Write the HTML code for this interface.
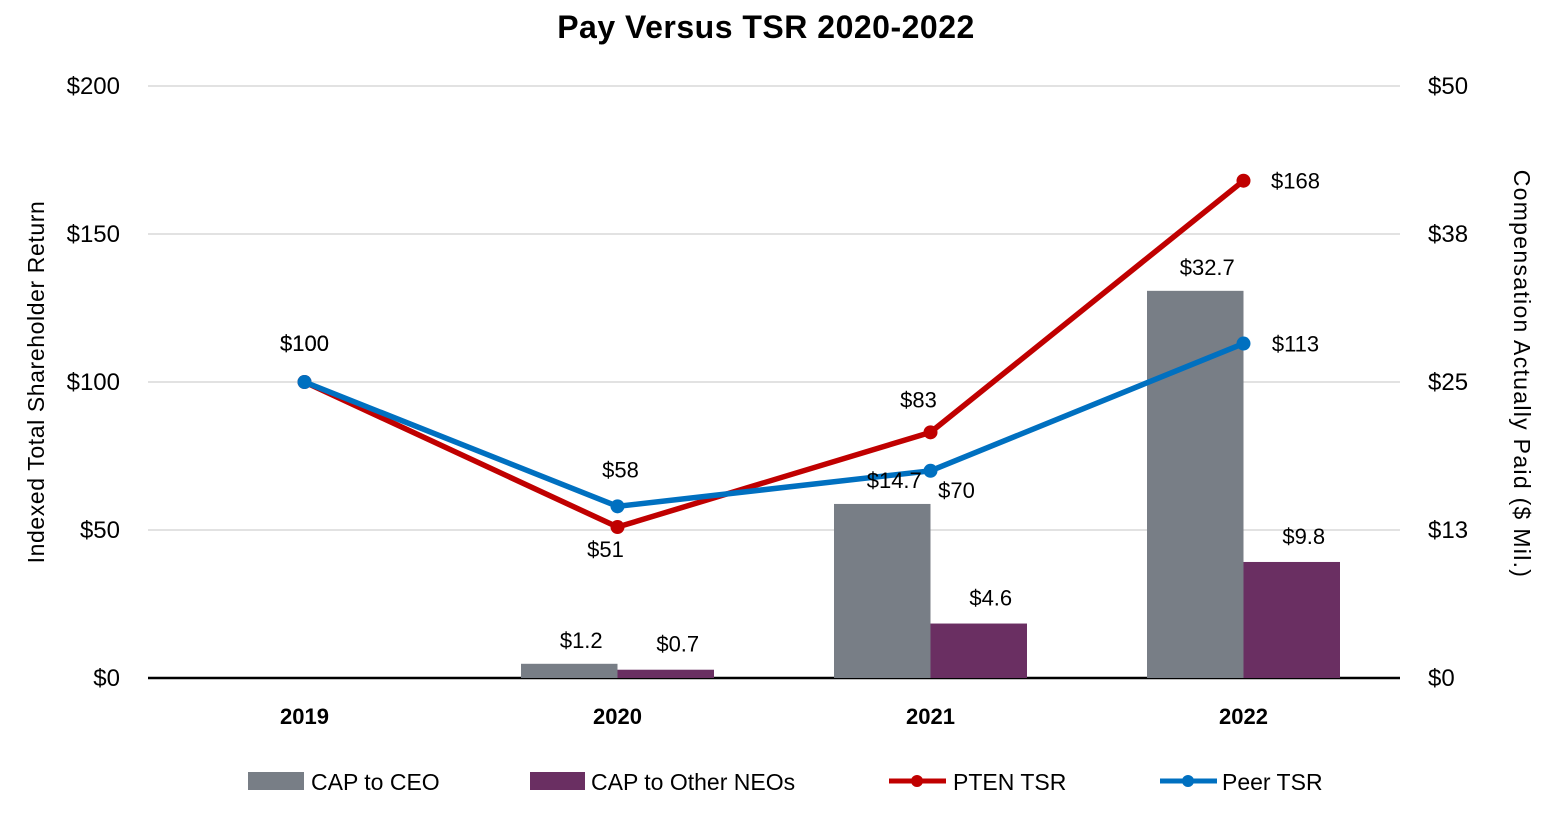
<!DOCTYPE html>
<html><head><meta charset="utf-8"><style>
body{margin:0;background:#fff;}
svg text{font-family:"Liberation Sans",sans-serif;}
</style></head><body>
<svg id="chart" width="1565" height="821" xmlns="http://www.w3.org/2000/svg">
<text x="766" y="38" text-anchor="middle" font-size="32" font-weight="bold" letter-spacing="0.5">Pay Versus TSR 2020-2022</text>
<g id="grid"></g><g id="bars"></g><g id="lines"></g><g id="labels"></g>
<text transform="translate(44,382) rotate(-90)" text-anchor="middle" font-size="23" letter-spacing="0.6">Indexed Total Shareholder Return</text>
<text transform="translate(1514,374) rotate(90)" text-anchor="middle" font-size="23" letter-spacing="1.3">Compensation Actually Paid ($ Mil.)</text>
<g>
<rect x="248" y="772" width="56" height="18" fill="#787e86"/>
<text x="311" y="790" font-size="23">CAP to CEO</text>
<rect x="530" y="772" width="55" height="18" fill="#6a2f62"/>
<text x="591" y="790" font-size="23">CAP to Other NEOs</text>
<line x1="889" y1="781" x2="946" y2="781" stroke="#c00000" stroke-width="5"/>
<circle cx="917" cy="781" r="6" fill="#c00000"/>
<text x="953" y="790" font-size="23">PTEN TSR</text>
<line x1="1160" y1="781" x2="1217" y2="781" stroke="#0070c0" stroke-width="5"/>
<circle cx="1188" cy="781" r="6" fill="#0070c0"/>
<text x="1222" y="790" font-size="23">Peer TSR</text>
</g>
</svg>
<script>
const categories=["2019","2020","2021","2022"];
const capCeo=[null,1.2,14.7,32.7];
const capNeo=[null,0.7,4.6,9.8];
const ptenTsr=[100,51,83,168];
const peerTsr=[100,58,70,113];
const leftTicks=[0,50,100,150,200];
const rightTicks=["$0","$13","$25","$38","$50"];
const NS="http://www.w3.org/2000/svg";
const x0=148,x1=1400,yTop=86,yBot=678;
const yL=v=>yBot-(v/200)*(yBot-yTop);
const yR=v=>yBot-(v/50)*(yBot-yTop);
const xC=i=>x0+(x1-x0)/categories.length*(i+0.5);
function mk(tag,attrs,parent,text){const e=document.createElementNS(NS,tag);for(const k in attrs)e.setAttribute(k,attrs[k]);if(text!=null)e.textContent=text;parent.appendChild(e);return e;}
const grid=document.getElementById('grid'),bars=document.getElementById('bars'),lines=document.getElementById('lines'),labels=document.getElementById('labels');
leftTicks.forEach((t,i)=>{
  const y=yL(t);
  if(t>0){const g=mk('line',{x1:x0,x2:x1,y1:y,y2:y,stroke:'#d9d9d9','stroke-width':1.5},grid);
  
  }
  const l=mk('text',{x:120,y:y+8,'text-anchor':'end','font-size':24},labels,'$'+t);
  
  
  const r=mk('text',{x:1428,y:y+8,'font-size':24},labels,rightTicks[i]);
  
  
});
const bw=96.5;
categories.forEach((c,i)=>{
  const cx=xC(i);
  const t=mk('text',{x:cx,y:724,'text-anchor':'middle','font-size':22,'font-weight':'bold'},labels,c);
  
  
  if(capCeo[i]!=null){
    const b=mk('rect',{x:cx-bw,y:yR(capCeo[i]),width:bw,height:yBot-yR(capCeo[i]),fill:'#787e86'},bars);
    
    
    const l=mk('text',{x:cx-bw/2+12,y:yR(capCeo[i])-16,'text-anchor':'middle','font-size':22},labels,'$'+capCeo[i]);
    
    
  }
  if(capNeo[i]!=null){
    const b=mk('rect',{x:cx,y:yR(capNeo[i]),width:bw,height:yBot-yR(capNeo[i]),fill:'#6a2f62'},bars);
    
    
    const l=mk('text',{x:cx+bw/2+12,y:yR(capNeo[i])-18,'text-anchor':'middle','font-size':22},labels,'$'+capNeo[i]);
    
    
  }
});
const ax=mk('line',{x1:x0,x2:x1,y1:yBot,y2:yBot,stroke:'#000','stroke-width':2.5},grid);


function series(vals,color,name,offs){
  const pts=vals.map((v,i)=>xC(i)+','+yL(v)).join(' ');
  const p=mk('polyline',{points:pts,fill:'none',stroke:color,'stroke-width':5.5,'stroke-linejoin':'round'},lines);
  
  
  vals.forEach((v,i)=>{
    const c=mk('circle',{cx:xC(i),cy:yL(v),r:7,fill:color},lines);
    
    
    const o=offs[i];
    const t=mk('text',{x:xC(i)+o[0],y:yL(v)+o[1],'text-anchor':'middle','font-size':22},labels,'$'+v);
    
    
  });
}
series(ptenTsr,'#c00000','pten-tsr',[[0,-31],[-12,30],[-12,-25],[52,8]]);
series(peerTsr,'#0070c0','peer-tsr',[[0,-31],[3,-29],[26,27],[52,8]]);
</script>
</body></html>
